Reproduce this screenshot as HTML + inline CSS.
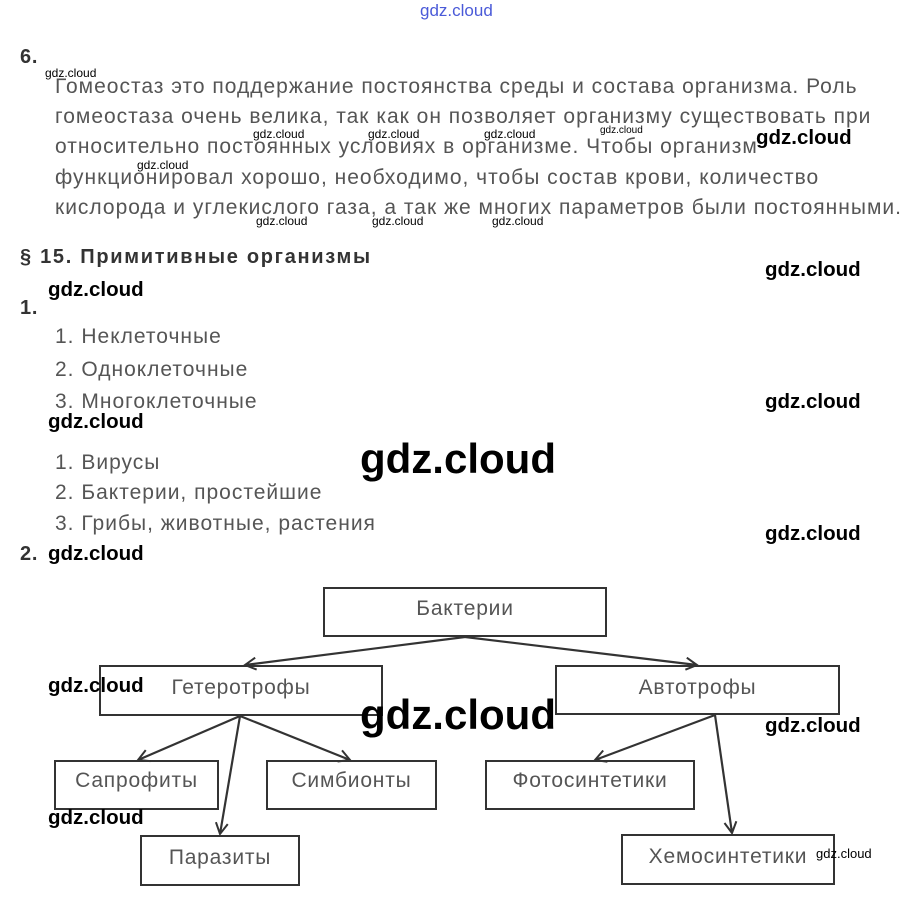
<!DOCTYPE html>
<html><head><meta charset="utf-8"><style>
body{margin:0;width:914px;height:902px;background:#fff;position:relative;overflow:hidden;font-family:"Liberation Sans",sans-serif}
.t{position:absolute;white-space:nowrap;color:#555;font-size:21px;line-height:24px;letter-spacing:1px}
.b{position:absolute;white-space:nowrap;color:#333;font-weight:bold;font-size:20px;line-height:22px;letter-spacing:0.8px}
.w{position:absolute;white-space:nowrap;color:#000;font-weight:bold;font-size:20.5px;line-height:22px;font-family:"Liberation Sans",sans-serif}
.s{position:absolute;white-space:nowrap;color:#000;font-size:12px;line-height:13px;font-family:"Liberation Sans",sans-serif}
.bx{position:absolute;border:2px solid #333;box-sizing:border-box;color:#555;font-size:21px;letter-spacing:0.8px;text-align:center}
</style></head><body>
<div class="s" style="left:420px;top:2px;font-size:17px;line-height:18px;color:#4a5ad8">gdz.cloud</div>
<div class="b" style="left:20px;top:46px">6.</div>
<div class="t" style="left:55px;top:75px">Гомеостаз это поддержание постоянства среды и состава организма. Роль</div>
<div class="t" style="left:55px;top:105px">гомеостаза очень велика, так как он позволяет организму существовать при</div>
<div class="t" style="left:55px;top:135px">относительно постоянных условиях в организме. Чтобы организм</div>
<div class="t" style="left:55px;top:166px">функционировал хорошо, необходимо, чтобы состав крови, количество</div>
<div class="t" style="left:55px;top:196px">кислорода и углекислого газа, а так же многих параметров были постоянными.</div>
<div class="s" style="left:45px;top:67px">gdz.cloud</div>
<div class="s" style="left:253px;top:128px">gdz.cloud</div>
<div class="s" style="left:368px;top:128px">gdz.cloud</div>
<div class="s" style="left:484px;top:128px">gdz.cloud</div>
<div class="s" style="left:600px;top:124px;font-size:10px">gdz.cloud</div>
<div class="s" style="left:137px;top:159px">gdz.cloud</div>
<div class="s" style="left:256px;top:215px">gdz.cloud</div>
<div class="s" style="left:372px;top:215px">gdz.cloud</div>
<div class="s" style="left:492px;top:215px">gdz.cloud</div>
<div class="b" style="left:20px;top:246px;letter-spacing:1.7px">§ 15. Примитивные организмы</div>
<div class="b" style="left:20px;top:297px">1.</div>
<div class="t" style="left:55px;top:325px">1. Неклеточные</div>
<div class="t" style="left:55px;top:358px">2. Одноклеточные</div>
<div class="t" style="left:55px;top:390px">3. Многоклеточные</div>
<div class="t" style="left:55px;top:451px">1. Вирусы</div>
<div class="t" style="left:55px;top:481px">2. Бактерии, простейшие</div>
<div class="t" style="left:55px;top:512px">3. Грибы, животные, растения</div>
<div class="b" style="left:20px;top:543px">2.</div>
<div class="w" style="left:756px;top:127px">gdz.cloud</div>
<div class="w" style="left:765px;top:259px">gdz.cloud</div>
<div class="w" style="left:48px;top:279px">gdz.cloud</div>
<div class="w" style="left:765px;top:391px">gdz.cloud</div>
<div class="w" style="left:48px;top:411px">gdz.cloud</div>
<div class="w" style="left:765px;top:523px">gdz.cloud</div>
<div class="w" style="left:48px;top:543px">gdz.cloud</div>
<div class="bx" style="left:323px;top:587px;width:284px;height:50px;line-height:40px">Бактерии</div>
<div class="bx" style="left:99px;top:665px;width:284px;height:51px;line-height:42px">Гетеротрофы</div>
<div class="bx" style="left:555px;top:665px;width:285px;height:50px;line-height:42px">Автотрофы</div>
<div class="bx" style="left:54px;top:760px;width:165px;height:50px;line-height:38px">Сапрофиты</div>
<div class="bx" style="left:266px;top:760px;width:171px;height:50px;line-height:38px">Симбионты</div>
<div class="bx" style="left:140px;top:835px;width:160px;height:51px;line-height:42px">Паразиты</div>
<div class="bx" style="left:485px;top:760px;width:210px;height:50px;line-height:38px">Фотосинтетики</div>
<div class="bx" style="left:621px;top:834px;width:214px;height:51px;line-height:42px">Хемосинтетики</div>
<svg style="position:absolute;left:0;top:0" width="914" height="902">
<defs><marker id="a" markerWidth="14" markerHeight="14" refX="12" refY="7" orient="auto" markerUnits="userSpaceOnUse"><path d="M1,1 L12,7 L1,13" fill="none" stroke="#333" stroke-width="2"/></marker></defs>
<g stroke="#333" stroke-width="2.2" fill="none" marker-end="url(#a)">
<line x1="465" y1="637" x2="245" y2="665"/>
<line x1="465" y1="637" x2="697" y2="665"/>
<line x1="240" y1="716" x2="138" y2="760"/>
<line x1="240" y1="716" x2="220" y2="834"/>
<line x1="240" y1="716" x2="350" y2="760"/>
<line x1="715" y1="715" x2="595" y2="760"/>
<line x1="715" y1="715" x2="732" y2="833"/>
</g></svg>
<div class="w" style="left:48px;top:675px">gdz.cloud</div>
<div class="w" style="left:765px;top:715px">gdz.cloud</div>
<div class="w" style="left:48px;top:807px">gdz.cloud</div>
<div class="s" style="left:816px;top:847px;font-size:13px">gdz.cloud</div>
<div class="w" style="left:360px;top:434px;font-size:42px;line-height:50px">gdz.cloud</div>
<div class="w" style="left:360px;top:690px;font-size:42px;line-height:50px">gdz.cloud</div>
</body></html>
